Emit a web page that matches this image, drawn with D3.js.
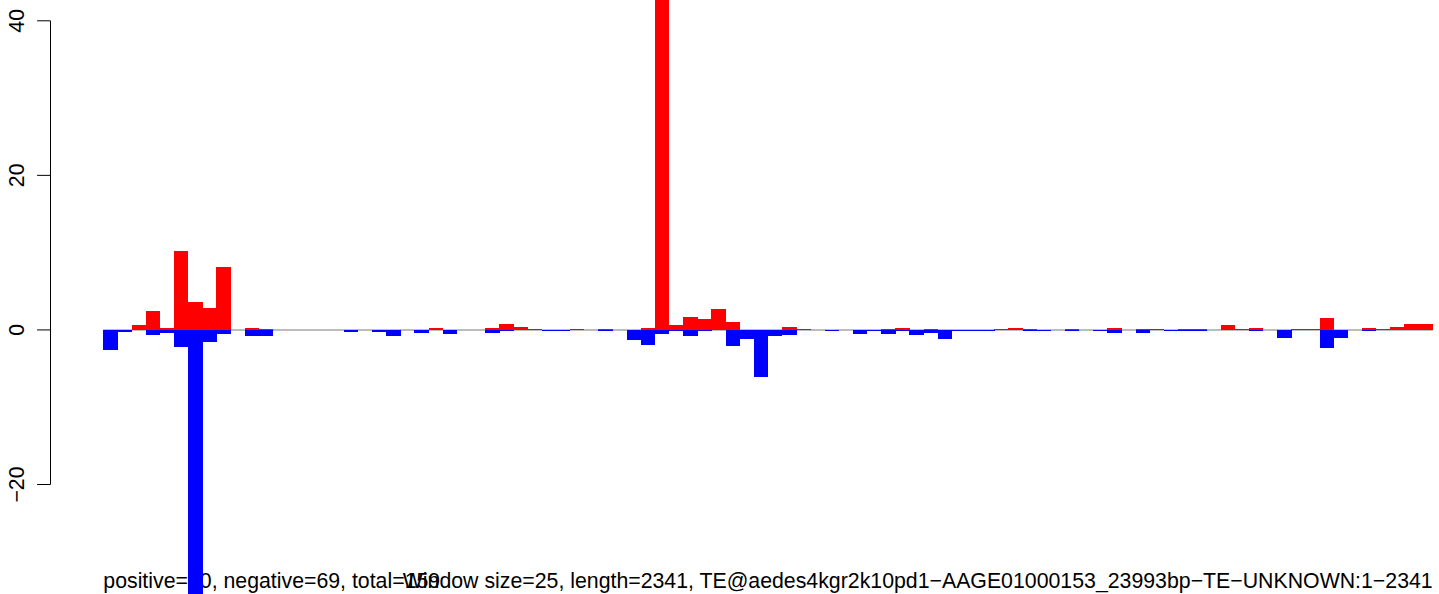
<!DOCTYPE html>
<html><head><meta charset="utf-8">
<script src="https://cdn.jsdelivr.net/npm/d3@7"></script>
<style>html,body{margin:0;padding:0;background:#fff;overflow:hidden}</style>
</head><body>
<script>
// window index (window size 25 bp, length 2341)
const bins = d3.range(94);
const positiveValues = [0,0,0.6,2.4,0.2,10.2,3.6,2.8,8.2,0,
  0.2,0.1,0,0,0,0,0,0,0,0,
  0,0,0,0.26,0,0,0,0.26,0.78,0.39,
  0.13,0,0,0.13,0,0.13,0,0,0.26,50,
  0.69,1.73,1.47,2.72,1.04,0,0,0,0.39,0.13,
  0,0,0,0,0,0.13,0.26,0,0.13,0,
  0,0,0,0.13,0.26,0.13,0,0,0.13,0,
  0,0.26,0,0.13,0.13,0,0.13,0.13,0,0.65,
  0.13,0.26,0,0,0.13,0.13,1.55,0,0,0.26,
  0.13,0.39,0.78,0.78];
const negativeValues = [-2.63,-0.26,0,-0.65,-0.4,-2.2,-40,-1.55,-0.5,0,
  -0.8,-0.8,0,0,0,0,0,-0.26,0,-0.26,
  -0.73,0,-0.35,0,-0.47,0,0,-0.35,-0.2,0,
  0,-0.2,-0.2,0,0,-0.2,0,-1.25,-1.9,-0.47,
  -0.2,-0.73,-0.2,0,-2.03,-1.12,-6.04,-0.73,-0.6,0,
  0,-0.2,0,-0.47,-0.2,-0.47,-0.2,-0.6,-0.35,-1.12,
  -0.2,-0.2,-0.2,0,0,-0.2,-0.2,0,-0.2,0,
  -0.2,-0.35,0,-0.35,0,-0.2,-0.2,-0.2,0,0,
  0,-0.2,0,-1.0,0,0,-2.4,-1.0,0,-0.2,
  0,0,0,0];
const yTicks = [-20, 0, 20, 40];
const leftLabel = "positive=90, negative=69, total=159";
const rightLabel = "Window size=25, length=2341, TE@aedes4kgr2k10pd1\u2212AAGE01000153_23993bp\u2212TE\u2212UNKNOWN:1\u22122341";

const W = 1439, H = 594;
const FS = 21.3;
const svg = d3.select("body").append("svg").attr("width", W).attr("height", H)
  .style("font-family", "'Liberation Sans', Arial, sans-serif");

const x = d3.scaleBand().domain(bins).range([103.3, 1432.7]).padding(0);
const y = d3.scaleLinear().domain([-20, 40]).range([484.5, 20.8]);

// bottom texts (drawn first, bars overlap them)
svg.append("text").attr("x", 103.3).attr("y", 588).attr("font-size", FS)
  .attr("text-anchor", "start").text(leftLabel);
svg.append("text").attr("x", 1432.7).attr("y", 588).attr("font-size", FS)
  .attr("text-anchor", "end").text(rightLabel);

// zero line
svg.append("line").attr("x1", x.range()[0]).attr("x2", x.range()[1])
  .attr("y1", y(0)).attr("y2", y(0)).attr("stroke", "#a6a6a6").attr("stroke-width", 1.5);

const g = svg.append("g").attr("shape-rendering", "crispEdges");
g.selectAll("rect.pos").data(bins.filter(i => positiveValues[i] > 0)).join("rect")
  .attr("class", "pos")
  .attr("x", i => x(i)).attr("width", x.bandwidth() + 0.3)
  .attr("y", i => y(positiveValues[i])).attr("height", i => y(0) - y(positiveValues[i]))
  .attr("fill", "#ff0000");
g.selectAll("rect.neg").data(bins.filter(i => negativeValues[i] < 0)).join("rect")
  .attr("class", "neg")
  .attr("x", i => x(i)).attr("width", x.bandwidth() + 0.3)
  .attr("y", y(0)).attr("height", i => y(negativeValues[i]) - y(0))
  .attr("fill", "#0000ff");

// y axis (R style)
const ax = svg.append("g").attr("transform", "translate(50.5,0)");
ax.append("line").attr("x1", 0).attr("x2", 0).attr("y1", y(40)).attr("y2", y(-20))
  .attr("stroke", "#000").attr("stroke-width", 1);
ax.selectAll("line.tick").data(yTicks).join("line").attr("class", "tick")
  .attr("x1", -13.4).attr("x2", 0).attr("y1", d => y(d)).attr("y2", d => y(d))
  .attr("stroke", "#000").attr("stroke-width", 1);
ax.selectAll("text").data(yTicks).join("text")
  .attr("transform", d => `translate(${-26.5},${y(d)}) rotate(-90)`)
  .attr("text-anchor", "middle").attr("font-size", FS)
  .text(d => d < 0 ? "\u2212" + Math.abs(d) : d);
</script>
</body></html>
